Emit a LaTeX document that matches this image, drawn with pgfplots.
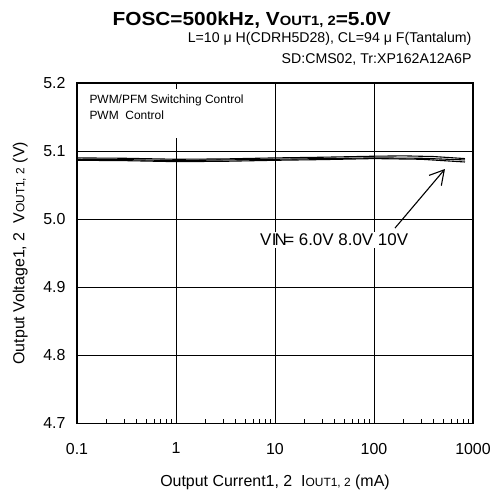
\documentclass[border=0pt]{standalone}
\usepackage{fontspec}
\setmainfont{Liberation Sans}
\newfontfamily\titlefont[FakeStretch=1.1]{Liberation Sans}
\usepackage{pgfplots}
\pgfplotsset{compat=1.18}
\usetikzlibrary{arrows.meta}
% smaller capitals used for the OUT1, 2 subscripts
\newcommand\sub[2][12]{{\fontsize{#1}{#1}\selectfont #2}}

\begin{document}
\begin{tikzpicture}
\useasboundingbox (0,0) rectangle (495bp,495bp);
\begin{axis}[
  at={(77bp,71.5bp)}, anchor=south west,
  scale only axis, width=396bp, height=340.5bp,
  xmode=log, xmin=0.1, xmax=1000, ymin=4.7, ymax=5.2,
  xtick={0.1,1,10,100,1000}, xticklabels={0.1,1,10,100,1000},
  minor xtick={0.2,0.3,0.4,0.5,0.6,0.7,0.8,0.9,2,3,4,5,6,7,8,9,20,30,40,50,60,70,80,90,200,300,400,500,600,700,800,900},
  ytick={4.7,4.8,4.9,5.0,5.1,5.2}, yticklabels={4.7,4.8,4.9,5.0,5.1,5.2},
  grid=major, major grid style={black,line width=0.9bp},
  axis line style={line width=1.4bp},
  tick align=inside, major tick length=0pt, minor tick length=4bp,
  minor tick style={black,line width=0.9bp},
  xtick pos=bottom, ytick pos=left,
  ticklabel style={font=\fontsize{16}{16}\selectfont},
  xticklabel style={yshift=-16bp},
  yticklabel style={xshift=-8bp},
  xlabel={Output Current1, 2\ \ I\sub{OUT1, 2} (mA)},
  ylabel={Output Voltage1, 2\ \ V\sub{OUT1, 2} (V)},
  every axis x label/.style={at={(axis description cs:0.5,-0.172)},anchor=center,font=\fontsize{16}{16}\selectfont},
  every axis y label/.style={at={(axis description cs:-0.143,0.5)},rotate=90,anchor=center,font=\fontsize{16}{16}\selectfont},
]
% VIN = 6.0V
\addplot[black, line width=1.1bp] coordinates {
  (0.1,5.090) (0.3,5.0895) (1,5.088) (3,5.0885) (10,5.090) (30,5.091)
  (100,5.0925) (200,5.093) (400,5.092) (830,5.089)
};
% VIN = 8.0V
\addplot[black, line width=1.1bp] coordinates {
  (0.1,5.088) (0.3,5.0875) (1,5.086) (3,5.087) (10,5.088) (30,5.089)
  (100,5.090) (300,5.0895) (830,5.087)
};
% VIN = 10V
\addplot[black, line width=1.1bp] coordinates {
  (0.1,5.0865) (0.3,5.086) (1,5.0845) (3,5.085) (10,5.0865) (30,5.0875)
  (100,5.089) (300,5.088) (830,5.084)
};
\fill[white] (axis cs:0.1047,5.191) rectangle (axis cs:5.34,5.119);
\node[anchor=base west, xshift=9bp, font=\fontsize{12}{12}\selectfont]
  at (axis cs:0.1,5.170) {PWM/PFM Switching Control};
\node[anchor=base west, xshift=9bp, font=\fontsize{12}{12}\selectfont]
  at (axis cs:0.1,5.147) {PWM\ \ Control};
\node[fill=white, inner sep=2bp, anchor=base, font=\fontsize{17}{17}\selectfont]
  at (axis cs:39.5,4.961) {V\kern0.5bp I\kern-2bp N\kern-2.5bp= 6.0V 8.0V 10V};
\draw[line width=1.1bp, -{Straight Barb[length=14bp,width=16bp]}]
  (axis cs:163,4.987) -- (axis cs:521,5.0737);
\end{axis}
\node[anchor=base, font=\titlefont\bfseries\fontsize{19}{19}\selectfont]
  at (251.7bp,469bp) {FOSC=500kHz, V\sub[13.5]{OUT1, 2}=5.0V};
\node[anchor=base east, font=\fontsize{14.2}{14.2}\selectfont]
  at (475bp,452.3bp) {L=10 μ H(CDRH5D28), CL=94 μ F(Tantalum)};
\node[anchor=base east, font=\fontsize{14.2}{14.2}\selectfont]
  at (475bp,431.7bp) {SD:CMS02, Tr:XP162A12A6P};
\end{tikzpicture}
\end{document}
